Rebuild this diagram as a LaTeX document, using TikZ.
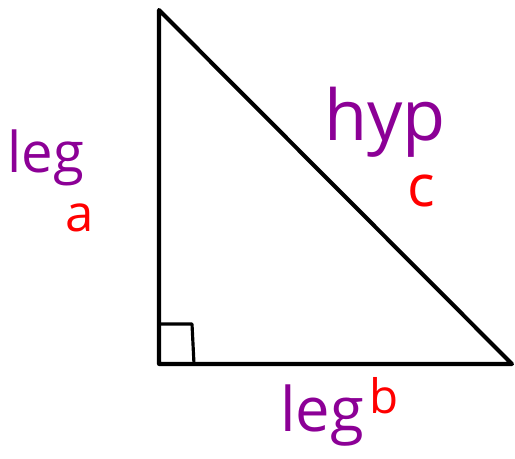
\documentclass[tikz,border=0pt]{standalone}
\usepackage{fontspec}
\setmainfont{Open Sans}
\usepackage{tikz}
\usetikzlibrary{calc}
\definecolor{legpurple}{RGB}{140,0,150}
\definecolor{sidered}{RGB}{255,0,0}

\begin{document}
\begin{tikzpicture}[x=0.02cm, y=-0.02cm, line join=round, line cap=round,
		side/.style={line width=2.3pt, black},
		word/.style={text=legpurple, inner sep=0pt},
		letter/.style={text=sidered, inner sep=0pt}]
	\useasboundingbox (0,0) rectangle (515,459);
	\coordinate (A) at (159,10);
	\coordinate (C) at (159,364);
	\coordinate (B) at (512,364);
	% triangle
	\draw[side] (A) -- (C) -- (B) -- cycle;
	% right angle mark
	\draw[line width=1.8pt] ($(C)+(0,-40)$) -- ($(C)+(33,-40)$) -- ($(C)+(35,0)$);
	% labels
	\node[word, font=\fontsize{32}{32}\selectfont] (lega) at (46,158) {leg};
	\node[letter, font=\fontsize{29}{29}\selectfont] (sa) at (80,218) {a};
	\node[word, font=\fontsize{40}{40}\selectfont] (hyp) at (385,122) {hyp};
	\node[letter, font=\fontsize{33}{33}\selectfont] (sc) at (421,191) {c};
	\node[word, font=\fontsize{35}{35}\selectfont] (legb) at (322,416) {leg};
	\node[letter, font=\fontsize{27}{27}\selectfont] (sb) at (384,396) {b};
\end{tikzpicture}
\end{document}
